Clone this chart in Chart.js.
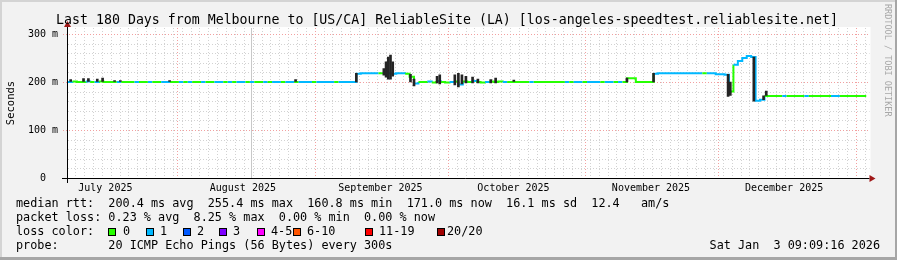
<!DOCTYPE html>
<html>
<head>
<meta charset="utf-8">
<title>Last 180 Days from Melbourne to ReliableSite (LA)</title>
<script src="https://cdn.jsdelivr.net/npm/chart.js@4.4.1/dist/chart.umd.min.js"></script>
<style>
    html, body { margin: 0; padding: 0; background: #f2f2f2; }
    canvas { display: block; }
</style>
</head>
<body>
<canvas id="smokeChart" width="897" height="260"></canvas>
<script>
// x axis is in days after the graph start (Jul 7 2025 09:09)
var monthLabels = ['July 2025', 'August 2025', 'September 2025', 'October 2025', 'November 2025', 'December 2025'];
var monthStarts = [-6.38, 24.62, 55.62, 85.62, 116.62, 146.62, 177.62];
var yTicks = [0, 100, 200, 300];
var yLabels = ['0  ', '100 m', '200 m', '300 m'];

// median rtt for each day (ms)
var medianRtt = [
    200, 201, 200, 200, 201, 200, 200, 201, 200, 200,
    200, 200, 200, 200, 200, 200, 200, 200, 200, 200,
    200, 200, 200, 200, 200, 200, 200, 200, 200, 200,
    200, 200, 200, 200, 200, 200, 200, 200, 200, 200,
    200, 200, 200, 200, 200, 200, 200, 200, 200, 200,
    200, 200, 200, 200, 200, 200, 200, 200, 200, 200,
    200, 200, 200, 200, 200, 217, 218, 218, 218, 218,
    218, 218, 218, 217, 218, 218, 217, 211, 197, 200,
    200, 201, 199, 202, 200, 199, 200, 201, 195, 201,
    200, 202, 200, 199, 200, 201, 200, 201, 200, 200,
    200, 200, 200, 200, 200, 200, 200, 200, 200, 200,
    200, 200, 200, 200, 200, 200, 200, 200, 200, 200,
    200, 200, 200, 200, 200, 200, 208, 208, 200, 200,
    200, 200, 217, 218, 218, 218, 218, 218, 218, 218,
    218, 218, 218, 218, 218, 218, 216, 216, 215, 180,
    236, 244, 250, 254, 252, 161, 163, 171, 171, 171,
    171, 171, 171, 171, 171, 171, 171, 171, 171, 171,
    171, 171, 171, 171, 171, 171, 171, 171, 171, 171
];

// loss colour index for each day (0 = no loss, 1 = 1/20 ...)
var lossIdx = [
    1, 0, 0, 0, 1, 0, 1, 0, 0, 0,
    0, 1, 0, 0, 0, 1, 0, 0, 1, 0,
    0, 1, 1, 0, 0, 1, 0, 1, 0, 0,
    1, 0, 0, 1, 1, 0, 1, 0, 1, 1,
    0, 1, 0, 0, 1, 0, 1, 1, 0, 1,
    1, 0, 1, 1, 1, 0, 1, 1, 1, 1,
    0, 1, 1, 1, 1, 1, 1, 1, 1, 1,
    0, 1, 1, 1, 1, 1, 0, 0, 1, 0,
    0, 1, 0, 1, 0, 0, 1, 0, 1, 0,
    0, 1, 0, 0, 1, 0, 0, 0, 1, 0,
    0, 0, 0, 0, 1, 0, 0, 0, 0, 0,
    0, 0, 1, 0, 1, 1, 0, 1, 1, 1,
    0, 1, 1, 0, 1, 0, 0, 0, 0, 0,
    0, 0, 1, 1, 1, 1, 1, 1, 1, 1,
    1, 1, 1, 0, 1, 1, 1, 1, 1, 0,
    1, 1, 1, 1, 1, 1, 1, 0, 0, 0,
    0, 1, 0, 0, 0, 0, 1, 0, 0, 0,
    0, 0, 1, 1, 0, 0, 0, 0, 0, 0
];

// smoke spikes (ms)
var smokeDay = [0.6, 3.5, 4.6, 6.6, 7.8, 10.5, 11.8, 22.9, 51.3, 65.0,
    71.2, 71.7, 72.2, 72.7, 73.2, 77.2, 78.0, 83.2, 83.8, 87.2,
    88.0, 88.8, 89.7, 91.2, 92.4, 95.3, 96.4, 100.5, 126.0, 132.0,
    148.8, 149.3, 154.6, 156.8, 157.4];
var smokeLow = [201, 201, 201, 201, 201, 201, 201, 201, 201, 200,
    214, 210, 206, 206, 212, 200, 192, 198, 196, 194,
    190, 196, 198, 198, 198, 198, 198, 201, 200, 200,
    170, 172, 160, 163, 172];
var smokeHigh = [205, 207, 207, 206, 208, 203, 203, 203, 205, 218,
    228, 242, 252, 256, 242, 216, 206, 212, 215, 215,
    218, 215, 212, 210, 206, 205, 208, 204, 208, 218,
    216, 200, 252, 171, 181];

var lossColors = ['#26ff00', '#00b8ff', '#0059ff', '#7e00ff', '#ff00ff', '#ff5500', '#ff0000', '#a10000'];
var lossNames = ['0', '1', '2', '3', '4-5', '6-10', '11-19', '20/20'];

var MONO = '"DejaVu Sans Mono", "Liberation Mono", monospace';

var medianPoints = medianRtt.map(function (v, i) { return { x: i, y: v }; });
medianPoints.push({ x: medianRtt.length, y: medianRtt[medianRtt.length - 1] });

var smokePoints = smokeDay.map(function (d, i) { return { x: d, y: [smokeLow[i], smokeHigh[i]] }; });

function px(v) { return Math.round(v) + 0.5; }

var rrdPlugin = {
    id: 'rrdLook',
    beforeDraw: function (chart) {
        var c = chart.ctx, a = chart.chartArea;
        c.save();
        c.fillStyle = '#f2f2f2';
        c.fillRect(0, 0, chart.width, chart.height);
        // frame
        c.fillStyle = '#d4d4d4';
        c.fillRect(0, 0, chart.width, 2);
        c.fillRect(0, 0, 2, chart.height);
        c.fillStyle = '#a6a6a6';
        c.fillRect(0, chart.height - 3, chart.width, 3);
        c.fillRect(chart.width - 2, 0, 2, chart.height);
        // plot area
        c.fillStyle = '#ffffff';
        c.fillRect(a.left, a.top - 1, a.right - a.left + 4, a.bottom - a.top + 1);
        c.restore();
    },
    beforeDatasetsDraw: function (chart) {
        var c = chart.ctx, a = chart.chartArea;
        var xs = chart.scales.x, ys = chart.scales.y;
        var d, v, x, y;
        c.save();
        c.lineWidth = 1;
        c.setLineDash([1, 2]);

        // minor grid
        c.strokeStyle = '#d2d2d2';
        c.beginPath();
        for (d = monthStarts[2] - 2 * 40; d <= 180; d += 2) {
            if (d <= 0) continue;
            x = px(xs.getPixelForValue(d));
            c.moveTo(x, a.top);
            c.lineTo(x, a.bottom);
        }
        for (v = 20; v < 320; v += 20) {
            if (v % 100 === 0) continue;
            y = px(ys.getPixelForValue(v));
            if (y < a.top) continue;
            c.moveTo(a.left, y);
            c.lineTo(a.right + 3, y);
        }
        c.stroke();

        // odd solid line seen in the original
        c.setLineDash([]);
        c.strokeStyle = '#c8c8c8';
        c.beginPath();
        x = px(xs.getPixelForValue(41.3));
        c.moveTo(x, a.top);
        c.lineTo(x, a.bottom);
        c.stroke();

        // major grid
        c.setLineDash([1, 2]);
        c.strokeStyle = '#f2a0a0';
        c.beginPath();
        monthStarts.forEach(function (m) {
            if (m <= 0 || m >= 180) return;
            var mx = px(xs.getPixelForValue(m));
            c.moveTo(mx, a.top);
            c.lineTo(mx, a.bottom + 3);
        });
        yTicks.forEach(function (t) {
            if (t === 0) return;
            var ty = px(ys.getPixelForValue(t));
            c.moveTo(a.left - 5, ty);
            c.lineTo(a.right + 3, ty);
        });
        c.stroke();
        c.restore();
    },
    afterDatasetsDraw: function (chart) {
        var c = chart.ctx, a = chart.chartArea;
        var y0 = px(a.bottom), x0 = px(a.left - 1);
        c.save();
        c.strokeStyle = '#000000';
        c.lineWidth = 1;
        c.beginPath();
        c.moveTo(a.left - 6, y0);
        c.lineTo(a.right + 3, y0);
        c.moveTo(x0, a.bottom + 5);
        c.lineTo(x0, a.top - 1);
        c.stroke();
        // arrows
        c.fillStyle = '#a01818';
        c.beginPath();
        c.moveTo(a.right + 3, y0 - 3.5);
        c.lineTo(a.right + 9, y0);
        c.lineTo(a.right + 3, y0 + 3.5);
        c.closePath();
        c.fill();
        c.beginPath();
        c.moveTo(x0 - 3.5, a.top - 1);
        c.lineTo(x0, a.top - 7);
        c.lineTo(x0 + 3.5, a.top - 1);
        c.closePath();
        c.fill();
        c.restore();
    },
    afterDraw: function (chart) {
        var c = chart.ctx;
        c.save();
        c.fillStyle = '#000000';

        // title
        c.font = '13.25px ' + MONO;
        c.textAlign = 'center';
        c.textBaseline = 'alphabetic';
        c.fillText('Last 180 Days from Melbourne to [US/CA] ReliableSite (LA) [los-angeles-speedtest.reliablesite.net]', 447, 24);

        // y axis title
        c.save();
        c.translate(11, 103);
        c.rotate(-Math.PI / 2);
        c.font = '10.5px ' + MONO;
        c.textBaseline = 'middle';
        c.fillText('Seconds', 0, 0);
        c.restore();

        // rrdtool watermark
        c.save();
        c.translate(887, 4);
        c.rotate(Math.PI / 2);
        c.font = '8.5px ' + MONO;
        c.fillStyle = '#a8a8a8';
        c.textAlign = 'left';
        c.textBaseline = 'middle';
        c.fillText('RRDTOOL / TOBI OETIKER', 0, 0);
        c.restore();

        // legend
        c.font = '11.8px ' + MONO;
        c.textAlign = 'left';
        c.textBaseline = 'middle';
        c.fillText('median rtt:  200.4 ms avg  255.4 ms max  160.8 ms min  171.0 ms now  16.1 ms sd  12.4   am/s', 16, 204);
        c.fillText('packet loss: 0.23 % avg  8.25 % max  0.00 % min  0.00 % now', 16, 218);
        c.fillText('loss color:', 16, 232);
        c.fillText('probe:       20 ICMP Echo Pings (56 Bytes) every 300s', 16, 246);

        var boxX = [108, 146, 183, 219, 257, 293, 365, 437];
        var textX = [123, 160, 197, 233, 271, 307, 379, 447];
        lossNames.forEach(function (name, i) {
            c.fillStyle = lossColors[i];
            c.fillRect(boxX[i], 228, 8, 8);
            c.strokeStyle = '#000000';
            c.lineWidth = 1;
            c.strokeRect(boxX[i] + 0.5, 228.5, 7, 7);
            c.fillStyle = '#000000';
            c.fillText(name, textX[i], 232);
        });

        c.textAlign = 'right';
        c.fillText('Sat Jan  3 09:09:16 2026', 880, 246);
        c.restore();
    }
};

var ctx = document.getElementById('smokeChart');
new Chart(ctx, {
    type: 'line',
    data: {
        datasets: [{
            type: 'bar',
            label: 'smoke',
            data: smokePoints,
            backgroundColor: '#242424',
            borderWidth: 0,
            barThickness: 2,
            grouped: false,
            order: 0
        }, {
            type: 'line',
            label: 'median rtt',
            data: medianPoints,
            stepped: 'before',
            borderWidth: 2,
            pointRadius: 0,
            fill: false,
            borderColor: lossColors[0],
            segment: {
                borderColor: function (s) { return lossColors[lossIdx[s.p0DataIndex]]; }
            },
            order: 1
        }]
    },
    options: {
        responsive: false,
        animation: false,
        devicePixelRatio: 1,
        layout: {
            padding: { top: 28, right: 30.5, bottom: 0, left: 0 }
        },
        plugins: {
            legend: { display: false },
            tooltip: { enabled: false },
            title: { display: false }
        },
        scales: {
            x: {
                type: 'linear',
                min: 0,
                max: 180,
                offset: false,
                grid: { display: false, drawTicks: false },
                border: { display: false },
                afterBuildTicks: function (scale) {
                    scale.ticks = monthLabels.map(function (l, i) {
                        return { value: monthStarts[i] + 14.8 };
                    });
                },
                afterFit: function (scale) { scale.height = 82; },
                ticks: {
                    autoSkip: false,
                    maxRotation: 0,
                    padding: 4,
                    color: '#000000',
                    font: { family: MONO, size: 10 },
                    callback: function (v, i) { return monthLabels[i]; }
                }
            },
            y: {
                type: 'linear',
                min: 0,
                max: 312.5,
                grid: { display: false, drawTicks: false },
                border: { display: false },
                afterBuildTicks: function (scale) {
                    scale.ticks = yTicks.map(function (t) { return { value: t }; });
                },
                afterFit: function (scale) { scale.width = 68; },
                ticks: {
                    padding: 10,
                    color: '#000000',
                    font: { family: MONO, size: 10 },
                    callback: function (v, i) { return yLabels[i]; }
                }
            }
        }
    },
    plugins: [rrdPlugin]
});
</script>
</body>
</html>
